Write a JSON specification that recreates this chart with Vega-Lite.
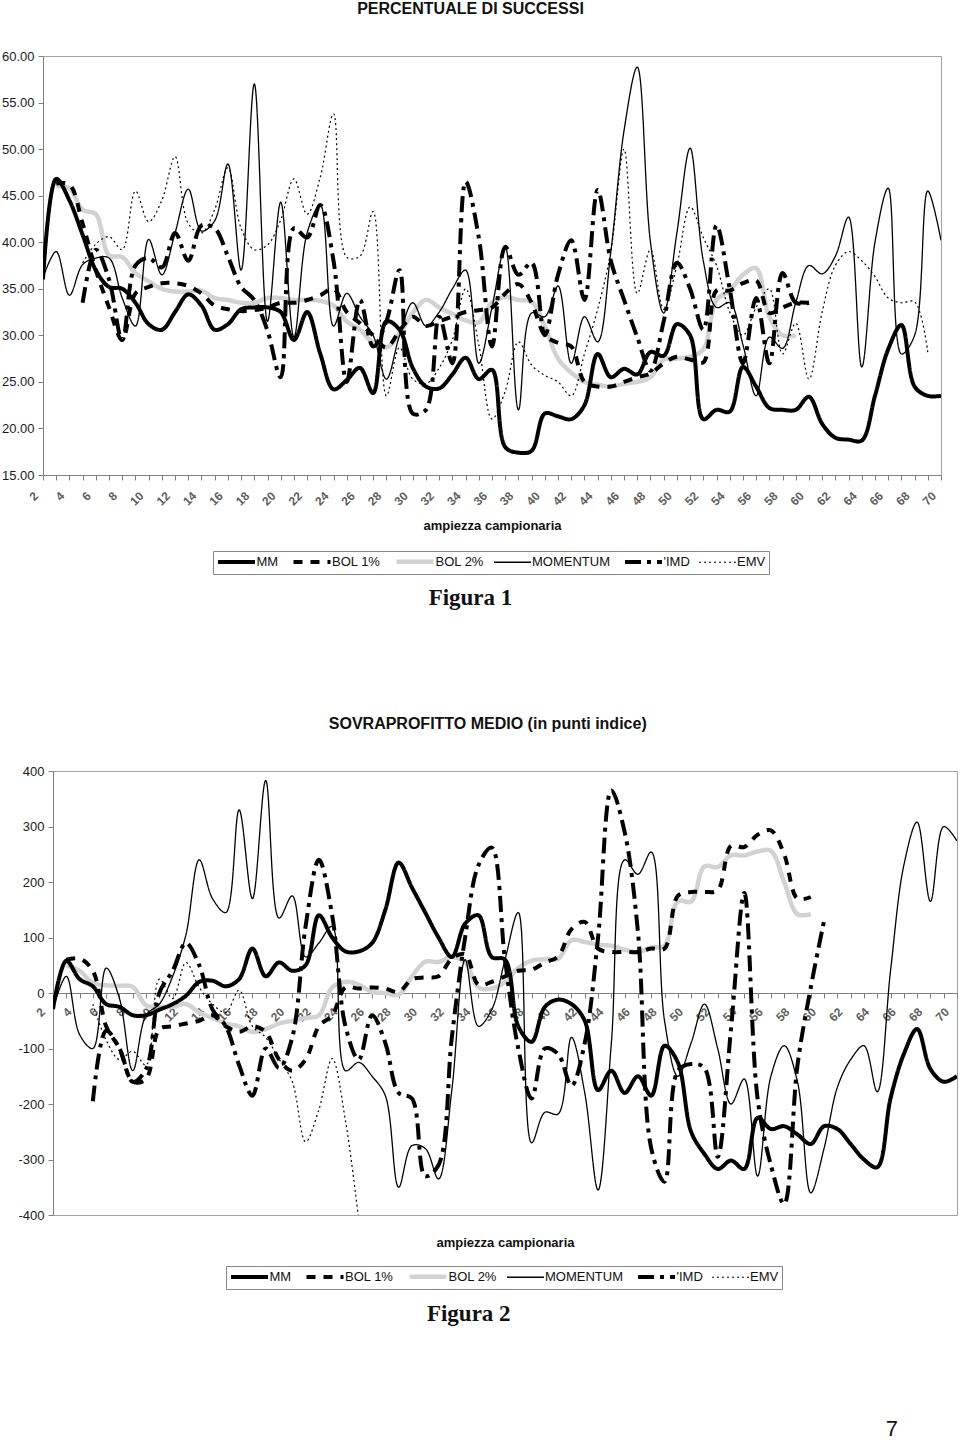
{
"$schema": "https://vega.github.io/schema/vega-lite/v6.json",
"background": "white",
"padding": 0,
"config": {
  "font": "Liberation Sans",
  "view": {"stroke": "#a0a0a0", "strokeWidth": 1},
  "axis": {"grid": false, "domainColor": "#808080", "tickColor": "#808080", "labelFont": "Liberation Sans", "titleFont": "Liberation Sans"},
  "title": {"font": "Liberation Sans", "fontSize": 16, "fontWeight": "bold", "color": "#111"},
  "legend": {"labelFont": "Liberation Sans"}
},
"datasets": {
"f1": [
{"s":"BOL 2%","k":3,"v":46},{"s":"BOL 2%","k":4,"v":45.8},{"s":"BOL 2%","k":5,"v":43.5},{"s":"BOL 2%","k":6,"v":43},{"s":"BOL 2%","k":7,"v":38.6},{"s":"BOL 2%","k":8,"v":38.4},{"s":"BOL 2%","k":9,"v":36.7},{"s":"BOL 2%","k":10,"v":35.8},{"s":"BOL 2%","k":11,"v":35},{"s":"BOL 2%","k":12,"v":34.7},{"s":"BOL 2%","k":13,"v":34.7},{"s":"BOL 2%","k":14,"v":34.8},{"s":"BOL 2%","k":15,"v":34},{"s":"BOL 2%","k":16,"v":33.8},{"s":"BOL 2%","k":17,"v":33.5},{"s":"BOL 2%","k":18,"v":33.5},{"s":"BOL 2%","k":19,"v":34},{"s":"BOL 2%","k":20,"v":34},{"s":"BOL 2%","k":21,"v":33.8},{"s":"BOL 2%","k":22,"v":33.8},{"s":"BOL 2%","k":23,"v":33.7},{"s":"BOL 2%","k":24,"v":33.2},{"s":"BOL 2%","k":25,"v":31.5},{"s":"BOL 2%","k":26,"v":30.6},{"s":"BOL 2%","k":27,"v":29.2},{"s":"BOL 2%","k":28,"v":28.7},{"s":"BOL 2%","k":29,"v":30.2},{"s":"BOL 2%","k":30,"v":32.4},{"s":"BOL 2%","k":31,"v":33.8},{"s":"BOL 2%","k":32,"v":33},{"s":"BOL 2%","k":33,"v":32.3},{"s":"BOL 2%","k":34,"v":31.6},{"s":"BOL 2%","k":35,"v":31.4},{"s":"BOL 2%","k":36,"v":33.5},{"s":"BOL 2%","k":37,"v":34.1},{"s":"BOL 2%","k":38,"v":33.8},{"s":"BOL 2%","k":39,"v":33.6},{"s":"BOL 2%","k":40,"v":31},{"s":"BOL 2%","k":41,"v":27.5},{"s":"BOL 2%","k":42,"v":26},{"s":"BOL 2%","k":43,"v":25},{"s":"BOL 2%","k":44,"v":24.7},{"s":"BOL 2%","k":45,"v":24.5},{"s":"BOL 2%","k":46,"v":24.8},{"s":"BOL 2%","k":47,"v":25},{"s":"BOL 2%","k":48,"v":25.5},{"s":"BOL 2%","k":49,"v":27.4},{"s":"BOL 2%","k":50,"v":27.5},{"s":"BOL 2%","k":51,"v":27.7},{"s":"BOL 2%","k":52,"v":28.5},{"s":"BOL 2%","k":53,"v":33.8},{"s":"BOL 2%","k":54,"v":34.8},{"s":"BOL 2%","k":55,"v":36.5},{"s":"BOL 2%","k":56,"v":37.2},{"s":"BOL 2%","k":57,"v":32},{"s":"BOL 2%","k":58,"v":30},{"s":"BOL 2%","k":59,"v":30},
{"s":"EMV","k":5,"v":37.8},{"s":"EMV","k":6,"v":39.8},{"s":"EMV","k":7,"v":40.6},{"s":"EMV","k":8,"v":39.2},{"s":"EMV","k":9,"v":45.5},{"s":"EMV","k":10,"v":42.2},{"s":"EMV","k":11,"v":44.5},{"s":"EMV","k":12,"v":49.2},{"s":"EMV","k":13,"v":42},{"s":"EMV","k":14,"v":41},{"s":"EMV","k":15,"v":43.5},{"s":"EMV","k":16,"v":48},{"s":"EMV","k":17,"v":41.5},{"s":"EMV","k":18,"v":39.2},{"s":"EMV","k":19,"v":39.7},{"s":"EMV","k":20,"v":42.4},{"s":"EMV","k":21,"v":46.8},{"s":"EMV","k":22,"v":43},{"s":"EMV","k":23,"v":47},{"s":"EMV","k":24,"v":53.8},{"s":"EMV","k":25,"v":38.4},{"s":"EMV","k":26,"v":38.5},{"s":"EMV","k":27,"v":43.3},{"s":"EMV","k":28,"v":23.5},{"s":"EMV","k":29,"v":28.7},{"s":"EMV","k":30,"v":25.3},{"s":"EMV","k":31,"v":24.8},{"s":"EMV","k":32,"v":26.5},{"s":"EMV","k":33,"v":29.5},{"s":"EMV","k":34,"v":35},{"s":"EMV","k":35,"v":29},{"s":"EMV","k":36,"v":21},{"s":"EMV","k":37,"v":24},{"s":"EMV","k":38,"v":29.3},{"s":"EMV","k":39,"v":26.8},{"s":"EMV","k":40,"v":25.7},{"s":"EMV","k":41,"v":25},{"s":"EMV","k":42,"v":23.5},{"s":"EMV","k":43,"v":28},{"s":"EMV","k":44,"v":32.8},{"s":"EMV","k":45,"v":39},{"s":"EMV","k":46,"v":50},{"s":"EMV","k":47,"v":34.5},{"s":"EMV","k":48,"v":39.2},{"s":"EMV","k":49,"v":32.8},{"s":"EMV","k":50,"v":37.5},{"s":"EMV","k":51,"v":43.8},{"s":"EMV","k":52,"v":40.5},{"s":"EMV","k":53,"v":37.5},{"s":"EMV","k":54,"v":32.5},{"s":"EMV","k":55,"v":30},{"s":"EMV","k":56,"v":33},{"s":"EMV","k":57,"v":35},{"s":"EMV","k":58,"v":28},{"s":"EMV","k":59,"v":31.3},{"s":"EMV","k":60,"v":25.3},{"s":"EMV","k":61,"v":32.5},{"s":"EMV","k":62,"v":37.5},{"s":"EMV","k":63,"v":39},{"s":"EMV","k":64,"v":38},{"s":"EMV","k":65,"v":36.3},{"s":"EMV","k":66,"v":34},{"s":"EMV","k":67,"v":33.5},{"s":"EMV","k":68,"v":33.6},{"s":"EMV","k":69,"v":28.2},
{"s":"MOMENTUM","k":2,"v":36.2},{"s":"MOMENTUM","k":3,"v":39},{"s":"MOMENTUM","k":4,"v":34.3},{"s":"MOMENTUM","k":5,"v":37.6},{"s":"MOMENTUM","k":6,"v":38.3},{"s":"MOMENTUM","k":7,"v":38.3},{"s":"MOMENTUM","k":8,"v":34},{"s":"MOMENTUM","k":9,"v":31},{"s":"MOMENTUM","k":10,"v":40.3},{"s":"MOMENTUM","k":11,"v":36.5},{"s":"MOMENTUM","k":12,"v":41},{"s":"MOMENTUM","k":13,"v":45.7},{"s":"MOMENTUM","k":14,"v":41.2},{"s":"MOMENTUM","k":15,"v":42.3},{"s":"MOMENTUM","k":16,"v":48.4},{"s":"MOMENTUM","k":17,"v":37},{"s":"MOMENTUM","k":18,"v":57},{"s":"MOMENTUM","k":19,"v":31.5},{"s":"MOMENTUM","k":20,"v":44.3},{"s":"MOMENTUM","k":21,"v":29.8},{"s":"MOMENTUM","k":22,"v":41},{"s":"MOMENTUM","k":23,"v":44},{"s":"MOMENTUM","k":24,"v":31},{"s":"MOMENTUM","k":25,"v":34.5},{"s":"MOMENTUM","k":26,"v":32},{"s":"MOMENTUM","k":27,"v":30},{"s":"MOMENTUM","k":28,"v":25.3},{"s":"MOMENTUM","k":29,"v":30},{"s":"MOMENTUM","k":30,"v":33.5},{"s":"MOMENTUM","k":31,"v":31},{"s":"MOMENTUM","k":32,"v":32.5},{"s":"MOMENTUM","k":33,"v":35},{"s":"MOMENTUM","k":34,"v":37},{"s":"MOMENTUM","k":35,"v":27},{"s":"MOMENTUM","k":36,"v":33},{"s":"MOMENTUM","k":37,"v":39.5},{"s":"MOMENTUM","k":38,"v":22},{"s":"MOMENTUM","k":39,"v":32.4},{"s":"MOMENTUM","k":40,"v":32},{"s":"MOMENTUM","k":41,"v":35.3},{"s":"MOMENTUM","k":42,"v":27},{"s":"MOMENTUM","k":43,"v":32},{"s":"MOMENTUM","k":44,"v":29.3},{"s":"MOMENTUM","k":45,"v":39},{"s":"MOMENTUM","k":46,"v":52},{"s":"MOMENTUM","k":47,"v":58.8},{"s":"MOMENTUM","k":48,"v":40},{"s":"MOMENTUM","k":49,"v":32.4},{"s":"MOMENTUM","k":50,"v":41},{"s":"MOMENTUM","k":51,"v":50.1},{"s":"MOMENTUM","k":52,"v":38},{"s":"MOMENTUM","k":53,"v":33},{"s":"MOMENTUM","k":54,"v":33.5},{"s":"MOMENTUM","k":55,"v":29},{"s":"MOMENTUM","k":56,"v":23.5},{"s":"MOMENTUM","k":57,"v":29.8},{"s":"MOMENTUM","k":58,"v":28.6},{"s":"MOMENTUM","k":59,"v":33.5},{"s":"MOMENTUM","k":60,"v":37.5},{"s":"MOMENTUM","k":61,"v":36.6},{"s":"MOMENTUM","k":62,"v":38.5},{"s":"MOMENTUM","k":63,"v":42.7},{"s":"MOMENTUM","k":64,"v":26.6},{"s":"MOMENTUM","k":65,"v":40},{"s":"MOMENTUM","k":66,"v":45.8},{"s":"MOMENTUM","k":67,"v":28},{"s":"MOMENTUM","k":68,"v":30},{"s":"MOMENTUM","k":69,"v":45.5},{"s":"MOMENTUM","k":70,"v":40.2},
{"s":"BOL 1%","k":3,"v":46.3},{"s":"BOL 1%","k":4,"v":46.2},{"s":"BOL 1%","k":5,"v":42},{"s":"BOL 1%","k":6,"v":37},{"s":"BOL 1%","k":7,"v":33},{"s":"BOL 1%","k":8,"v":29.5},{"s":"BOL 1%","k":9,"v":34.5},{"s":"BOL 1%","k":10,"v":35.2},{"s":"BOL 1%","k":11,"v":35.6},{"s":"BOL 1%","k":12,"v":35.6},{"s":"BOL 1%","k":13,"v":35.3},{"s":"BOL 1%","k":14,"v":34.5},{"s":"BOL 1%","k":15,"v":33.2},{"s":"BOL 1%","k":16,"v":32.8},{"s":"BOL 1%","k":17,"v":32.6},{"s":"BOL 1%","k":18,"v":32.7},{"s":"BOL 1%","k":19,"v":33},{"s":"BOL 1%","k":20,"v":33.5},{"s":"BOL 1%","k":21,"v":33.5},{"s":"BOL 1%","k":22,"v":33.8},{"s":"BOL 1%","k":23,"v":34.3},{"s":"BOL 1%","k":24,"v":35},{"s":"BOL 1%","k":25,"v":32.5},{"s":"BOL 1%","k":26,"v":31.3},{"s":"BOL 1%","k":27,"v":30},{"s":"BOL 1%","k":28,"v":28.7},{"s":"BOL 1%","k":29,"v":30.5},{"s":"BOL 1%","k":30,"v":32},{"s":"BOL 1%","k":31,"v":31},{"s":"BOL 1%","k":32,"v":31.5},{"s":"BOL 1%","k":33,"v":32},{"s":"BOL 1%","k":34,"v":32.5},{"s":"BOL 1%","k":35,"v":32.7},{"s":"BOL 1%","k":36,"v":33},{"s":"BOL 1%","k":37,"v":34.5},{"s":"BOL 1%","k":38,"v":35.5},{"s":"BOL 1%","k":39,"v":33.5},{"s":"BOL 1%","k":40,"v":30},{"s":"BOL 1%","k":41,"v":29.2},{"s":"BOL 1%","k":42,"v":28.8},{"s":"BOL 1%","k":43,"v":25},{"s":"BOL 1%","k":44,"v":24.5},{"s":"BOL 1%","k":45,"v":24.5},{"s":"BOL 1%","k":46,"v":25},{"s":"BOL 1%","k":47,"v":25.5},{"s":"BOL 1%","k":48,"v":25.9},{"s":"BOL 1%","k":49,"v":27},{"s":"BOL 1%","k":50,"v":27.7},{"s":"BOL 1%","k":51,"v":27.4},{"s":"BOL 1%","k":52,"v":27.1},{"s":"BOL 1%","k":53,"v":34.8},{"s":"BOL 1%","k":54,"v":34.8},{"s":"BOL 1%","k":55,"v":35.6},{"s":"BOL 1%","k":56,"v":35.9},{"s":"BOL 1%","k":57,"v":32.4},{"s":"BOL 1%","k":58,"v":33},{"s":"BOL 1%","k":59,"v":33.5},{"s":"BOL 1%","k":60,"v":33.5},
{"s":"'IMD","k":5,"v":33.5},{"s":"'IMD","k":6,"v":39.2},{"s":"'IMD","k":7,"v":36},{"s":"'IMD","k":8,"v":29.5},{"s":"'IMD","k":9,"v":37.5},{"s":"'IMD","k":10,"v":38.3},{"s":"'IMD","k":11,"v":37.3},{"s":"'IMD","k":12,"v":41},{"s":"'IMD","k":13,"v":38},{"s":"'IMD","k":14,"v":41.8},{"s":"'IMD","k":15,"v":41.5},{"s":"'IMD","k":16,"v":38.5},{"s":"'IMD","k":17,"v":35.2},{"s":"'IMD","k":18,"v":33.8},{"s":"'IMD","k":19,"v":30.5},{"s":"'IMD","k":20,"v":25.5},{"s":"'IMD","k":21,"v":41.5},{"s":"'IMD","k":22,"v":40.5},{"s":"'IMD","k":23,"v":44},{"s":"'IMD","k":24,"v":38},{"s":"'IMD","k":25,"v":25},{"s":"'IMD","k":26,"v":33.8},{"s":"'IMD","k":27,"v":28.8},{"s":"'IMD","k":28,"v":31.5},{"s":"'IMD","k":29,"v":37},{"s":"'IMD","k":30,"v":21.6},{"s":"'IMD","k":31,"v":22},{"s":"'IMD","k":32,"v":32},{"s":"'IMD","k":33,"v":27},{"s":"'IMD","k":34,"v":46.5},{"s":"'IMD","k":35,"v":40.5},{"s":"'IMD","k":36,"v":28.8},{"s":"'IMD","k":37,"v":39.5},{"s":"'IMD","k":38,"v":36.5},{"s":"'IMD","k":39,"v":37.8},{"s":"'IMD","k":40,"v":30},{"s":"'IMD","k":41,"v":36.5},{"s":"'IMD","k":42,"v":40.2},{"s":"'IMD","k":43,"v":33.8},{"s":"'IMD","k":44,"v":45.6},{"s":"'IMD","k":45,"v":38},{"s":"'IMD","k":46,"v":33.8},{"s":"'IMD","k":47,"v":29.8},{"s":"'IMD","k":48,"v":26.2},{"s":"'IMD","k":49,"v":31.5},{"s":"'IMD","k":50,"v":37.8},{"s":"'IMD","k":51,"v":35},{"s":"'IMD","k":52,"v":30.6},{"s":"'IMD","k":53,"v":41.8},{"s":"'IMD","k":54,"v":35},{"s":"'IMD","k":55,"v":27},{"s":"'IMD","k":56,"v":34},{"s":"'IMD","k":57,"v":27},{"s":"'IMD","k":58,"v":36.7},{"s":"'IMD","k":59,"v":33.5},{"s":"'IMD","k":60,"v":33.5},
{"s":"MM","k":2,"v":36},{"s":"MM","k":3,"v":46.8},{"s":"MM","k":4,"v":44.5},{"s":"MM","k":5,"v":40.8},{"s":"MM","k":6,"v":37},{"s":"MM","k":7,"v":35.2},{"s":"MM","k":8,"v":35},{"s":"MM","k":9,"v":33.5},{"s":"MM","k":10,"v":31.2},{"s":"MM","k":11,"v":30.6},{"s":"MM","k":12,"v":32.5},{"s":"MM","k":13,"v":34.4},{"s":"MM","k":14,"v":33.2},{"s":"MM","k":15,"v":30.6},{"s":"MM","k":16,"v":31.2},{"s":"MM","k":17,"v":32.8},{"s":"MM","k":18,"v":33},{"s":"MM","k":19,"v":33},{"s":"MM","k":20,"v":32.5},{"s":"MM","k":21,"v":29.5},{"s":"MM","k":22,"v":32.5},{"s":"MM","k":23,"v":28},{"s":"MM","k":24,"v":24.2},{"s":"MM","k":25,"v":25.2},{"s":"MM","k":26,"v":26.5},{"s":"MM","k":27,"v":23.8},{"s":"MM","k":28,"v":31.5},{"s":"MM","k":29,"v":30.6},{"s":"MM","k":30,"v":26.5},{"s":"MM","k":31,"v":24.5},{"s":"MM","k":32,"v":24.3},{"s":"MM","k":33,"v":25.8},{"s":"MM","k":34,"v":27.6},{"s":"MM","k":35,"v":25.3},{"s":"MM","k":36,"v":26.3},{"s":"MM","k":37,"v":18},{"s":"MM","k":38,"v":17.4},{"s":"MM","k":39,"v":17.6},{"s":"MM","k":40,"v":21.6},{"s":"MM","k":41,"v":21.3},{"s":"MM","k":42,"v":21},{"s":"MM","k":43,"v":22.5},{"s":"MM","k":44,"v":28},{"s":"MM","k":45,"v":25.5},{"s":"MM","k":46,"v":26.4},{"s":"MM","k":47,"v":25.8},{"s":"MM","k":48,"v":28.2},{"s":"MM","k":49,"v":27.8},{"s":"MM","k":50,"v":31.2},{"s":"MM","k":51,"v":30},{"s":"MM","k":52,"v":21},{"s":"MM","k":53,"v":22},{"s":"MM","k":54,"v":21.8},{"s":"MM","k":55,"v":26.6},{"s":"MM","k":56,"v":24.5},{"s":"MM","k":57,"v":22.2},{"s":"MM","k":58,"v":22},{"s":"MM","k":59,"v":22},{"s":"MM","k":60,"v":23.4},{"s":"MM","k":61,"v":20.5},{"s":"MM","k":62,"v":19},{"s":"MM","k":63,"v":18.8},{"s":"MM","k":64,"v":18.7},{"s":"MM","k":65,"v":23.5},{"s":"MM","k":66,"v":28.5},{"s":"MM","k":67,"v":31.1},{"s":"MM","k":68,"v":24.5},{"s":"MM","k":69,"v":23.5},{"s":"MM","k":70,"v":23.5}
],
"f2": [
{"s":"BOL 2%","k":3,"v":50},{"s":"BOL 2%","k":4,"v":40},{"s":"BOL 2%","k":5,"v":18},{"s":"BOL 2%","k":6,"v":14},{"s":"BOL 2%","k":7,"v":13},{"s":"BOL 2%","k":8,"v":11},{"s":"BOL 2%","k":9,"v":-22},{"s":"BOL 2%","k":10,"v":-25},{"s":"BOL 2%","k":11,"v":-25},{"s":"BOL 2%","k":12,"v":-20},{"s":"BOL 2%","k":13,"v":-35},{"s":"BOL 2%","k":14,"v":-45},{"s":"BOL 2%","k":15,"v":-55},{"s":"BOL 2%","k":16,"v":-60},{"s":"BOL 2%","k":17,"v":-70},{"s":"BOL 2%","k":18,"v":-65},{"s":"BOL 2%","k":19,"v":-55},{"s":"BOL 2%","k":20,"v":-50},{"s":"BOL 2%","k":21,"v":-45},{"s":"BOL 2%","k":22,"v":-40},{"s":"BOL 2%","k":23,"v":10},{"s":"BOL 2%","k":24,"v":20},{"s":"BOL 2%","k":25,"v":15},{"s":"BOL 2%","k":26,"v":2},{"s":"BOL 2%","k":27,"v":0},{"s":"BOL 2%","k":28,"v":-3},{"s":"BOL 2%","k":29,"v":30},{"s":"BOL 2%","k":30,"v":56},{"s":"BOL 2%","k":31,"v":56},{"s":"BOL 2%","k":32,"v":65},{"s":"BOL 2%","k":33,"v":55},{"s":"BOL 2%","k":34,"v":10},{"s":"BOL 2%","k":35,"v":8},{"s":"BOL 2%","k":36,"v":20},{"s":"BOL 2%","k":37,"v":45},{"s":"BOL 2%","k":38,"v":58},{"s":"BOL 2%","k":39,"v":61},{"s":"BOL 2%","k":40,"v":62},{"s":"BOL 2%","k":41,"v":95},{"s":"BOL 2%","k":42,"v":92},{"s":"BOL 2%","k":43,"v":87},{"s":"BOL 2%","k":44,"v":85},{"s":"BOL 2%","k":45,"v":78},{"s":"BOL 2%","k":46,"v":74},{"s":"BOL 2%","k":47,"v":82},{"s":"BOL 2%","k":48,"v":85},{"s":"BOL 2%","k":49,"v":165},{"s":"BOL 2%","k":50,"v":165},{"s":"BOL 2%","k":51,"v":228},{"s":"BOL 2%","k":52,"v":227},{"s":"BOL 2%","k":53,"v":248},{"s":"BOL 2%","k":54,"v":248},{"s":"BOL 2%","k":55,"v":255},{"s":"BOL 2%","k":56,"v":256},{"s":"BOL 2%","k":57,"v":200},{"s":"BOL 2%","k":58,"v":142},{"s":"BOL 2%","k":59,"v":142},
{"s":"EMV","k":5,"v":-20},{"s":"EMV","k":6,"v":-85},{"s":"EMV","k":7,"v":-120},{"s":"EMV","k":8,"v":-105},{"s":"EMV","k":9,"v":-130},{"s":"EMV","k":10,"v":25},{"s":"EMV","k":11,"v":-10},{"s":"EMV","k":12,"v":55},{"s":"EMV","k":13,"v":10},{"s":"EMV","k":14,"v":-20},{"s":"EMV","k":15,"v":-35},{"s":"EMV","k":16,"v":5},{"s":"EMV","k":17,"v":-60},{"s":"EMV","k":18,"v":-80},{"s":"EMV","k":19,"v":-119},{"s":"EMV","k":20,"v":-160},{"s":"EMV","k":21,"v":-268},{"s":"EMV","k":22,"v":-210},{"s":"EMV","k":23,"v":-118},{"s":"EMV","k":24,"v":-230},{"s":"EMV","k":25,"v":-410},
{"s":"MOMENTUM","k":2,"v":-29},{"s":"MOMENTUM","k":3,"v":30},{"s":"MOMENTUM","k":4,"v":-75},{"s":"MOMENTUM","k":5,"v":-100},{"s":"MOMENTUM","k":6,"v":45},{"s":"MOMENTUM","k":7,"v":-10},{"s":"MOMENTUM","k":8,"v":-140},{"s":"MOMENTUM","k":9,"v":-40},{"s":"MOMENTUM","k":10,"v":-20},{"s":"MOMENTUM","k":11,"v":30},{"s":"MOMENTUM","k":12,"v":105},{"s":"MOMENTUM","k":13,"v":240},{"s":"MOMENTUM","k":14,"v":170},{"s":"MOMENTUM","k":15,"v":145},{"s":"MOMENTUM","k":16,"v":330},{"s":"MOMENTUM","k":17,"v":170},{"s":"MOMENTUM","k":18,"v":383},{"s":"MOMENTUM","k":19,"v":135},{"s":"MOMENTUM","k":20,"v":175},{"s":"MOMENTUM","k":21,"v":65},{"s":"MOMENTUM","k":22,"v":90},{"s":"MOMENTUM","k":23,"v":120},{"s":"MOMENTUM","k":24,"v":-140},{"s":"MOMENTUM","k":25,"v":-125},{"s":"MOMENTUM","k":26,"v":-150},{"s":"MOMENTUM","k":27,"v":-185},{"s":"MOMENTUM","k":28,"v":-350},{"s":"MOMENTUM","k":29,"v":-275},{"s":"MOMENTUM","k":30,"v":-280},{"s":"MOMENTUM","k":31,"v":-335},{"s":"MOMENTUM","k":32,"v":-175},{"s":"MOMENTUM","k":33,"v":60},{"s":"MOMENTUM","k":34,"v":-60},{"s":"MOMENTUM","k":35,"v":-30},{"s":"MOMENTUM","k":36,"v":60},{"s":"MOMENTUM","k":37,"v":145},{"s":"MOMENTUM","k":38,"v":-270},{"s":"MOMENTUM","k":39,"v":-215},{"s":"MOMENTUM","k":40,"v":-218},{"s":"MOMENTUM","k":41,"v":-80},{"s":"MOMENTUM","k":42,"v":-180},{"s":"MOMENTUM","k":43,"v":-355},{"s":"MOMENTUM","k":44,"v":-90},{"s":"MOMENTUM","k":45,"v":240},{"s":"MOMENTUM","k":46,"v":214},{"s":"MOMENTUM","k":47,"v":254},{"s":"MOMENTUM","k":48,"v":-50},{"s":"MOMENTUM","k":49,"v":-150},{"s":"MOMENTUM","k":50,"v":-90},{"s":"MOMENTUM","k":51,"v":-20},{"s":"MOMENTUM","k":52,"v":-100},{"s":"MOMENTUM","k":53,"v":-200},{"s":"MOMENTUM","k":54,"v":-155},{"s":"MOMENTUM","k":55,"v":-330},{"s":"MOMENTUM","k":56,"v":-150},{"s":"MOMENTUM","k":57,"v":-95},{"s":"MOMENTUM","k":58,"v":-160},{"s":"MOMENTUM","k":59,"v":-360},{"s":"MOMENTUM","k":60,"v":-280},{"s":"MOMENTUM","k":61,"v":-170},{"s":"MOMENTUM","k":62,"v":-120},{"s":"MOMENTUM","k":63,"v":-95},{"s":"MOMENTUM","k":64,"v":-178},{"s":"MOMENTUM","k":65,"v":40},{"s":"MOMENTUM","k":66,"v":230},{"s":"MOMENTUM","k":67,"v":308},{"s":"MOMENTUM","k":68,"v":165},{"s":"MOMENTUM","k":69,"v":300},{"s":"MOMENTUM","k":70,"v":274},
{"s":"BOL 1%","k":3,"v":60},{"s":"BOL 1%","k":4,"v":62},{"s":"BOL 1%","k":5,"v":40},{"s":"BOL 1%","k":6,"v":-60},{"s":"BOL 1%","k":7,"v":-100},{"s":"BOL 1%","k":8,"v":-160},{"s":"BOL 1%","k":9,"v":-155},{"s":"BOL 1%","k":10,"v":-65},{"s":"BOL 1%","k":11,"v":-60},{"s":"BOL 1%","k":12,"v":-55},{"s":"BOL 1%","k":13,"v":-50},{"s":"BOL 1%","k":14,"v":-40},{"s":"BOL 1%","k":15,"v":-60},{"s":"BOL 1%","k":16,"v":-70},{"s":"BOL 1%","k":17,"v":-60},{"s":"BOL 1%","k":18,"v":-70},{"s":"BOL 1%","k":19,"v":-120},{"s":"BOL 1%","k":20,"v":-140},{"s":"BOL 1%","k":21,"v":-120},{"s":"BOL 1%","k":22,"v":-60},{"s":"BOL 1%","k":23,"v":-40},{"s":"BOL 1%","k":24,"v":10},{"s":"BOL 1%","k":25,"v":8},{"s":"BOL 1%","k":26,"v":10},{"s":"BOL 1%","k":27,"v":8},{"s":"BOL 1%","k":28,"v":2},{"s":"BOL 1%","k":29,"v":25},{"s":"BOL 1%","k":30,"v":28},{"s":"BOL 1%","k":31,"v":30},{"s":"BOL 1%","k":32,"v":62},{"s":"BOL 1%","k":33,"v":70},{"s":"BOL 1%","k":34,"v":15},{"s":"BOL 1%","k":35,"v":20},{"s":"BOL 1%","k":36,"v":30},{"s":"BOL 1%","k":37,"v":40},{"s":"BOL 1%","k":38,"v":42},{"s":"BOL 1%","k":39,"v":55},{"s":"BOL 1%","k":40,"v":66},{"s":"BOL 1%","k":41,"v":115},{"s":"BOL 1%","k":42,"v":128},{"s":"BOL 1%","k":43,"v":80},{"s":"BOL 1%","k":44,"v":74},{"s":"BOL 1%","k":45,"v":74},{"s":"BOL 1%","k":46,"v":74},{"s":"BOL 1%","k":47,"v":80},{"s":"BOL 1%","k":48,"v":80},{"s":"BOL 1%","k":49,"v":175},{"s":"BOL 1%","k":50,"v":182},{"s":"BOL 1%","k":51,"v":182},{"s":"BOL 1%","k":52,"v":185},{"s":"BOL 1%","k":53,"v":265},{"s":"BOL 1%","k":54,"v":263},{"s":"BOL 1%","k":55,"v":285},{"s":"BOL 1%","k":56,"v":293},{"s":"BOL 1%","k":57,"v":250},{"s":"BOL 1%","k":58,"v":170},{"s":"BOL 1%","k":59,"v":173},
{"s":"'IMD","k":5,"v":-195},{"s":"'IMD","k":6,"v":-68},{"s":"'IMD","k":7,"v":-100},{"s":"'IMD","k":8,"v":-160},{"s":"'IMD","k":9,"v":-137},{"s":"'IMD","k":10,"v":0},{"s":"'IMD","k":11,"v":40},{"s":"'IMD","k":12,"v":90},{"s":"'IMD","k":13,"v":50},{"s":"'IMD","k":14,"v":-30},{"s":"'IMD","k":15,"v":-60},{"s":"'IMD","k":16,"v":-130},{"s":"'IMD","k":17,"v":-185},{"s":"'IMD","k":18,"v":-100},{"s":"'IMD","k":19,"v":-135},{"s":"'IMD","k":20,"v":-80},{"s":"'IMD","k":21,"v":120},{"s":"'IMD","k":22,"v":240},{"s":"'IMD","k":23,"v":140},{"s":"'IMD","k":24,"v":-60},{"s":"'IMD","k":25,"v":-120},{"s":"'IMD","k":26,"v":-40},{"s":"'IMD","k":27,"v":-90},{"s":"'IMD","k":28,"v":-180},{"s":"'IMD","k":29,"v":-190},{"s":"'IMD","k":30,"v":-330},{"s":"'IMD","k":31,"v":-310},{"s":"'IMD","k":32,"v":-80},{"s":"'IMD","k":33,"v":100},{"s":"'IMD","k":34,"v":230},{"s":"'IMD","k":35,"v":262},{"s":"'IMD","k":36,"v":60},{"s":"'IMD","k":37,"v":-100},{"s":"'IMD","k":38,"v":-190},{"s":"'IMD","k":39,"v":-100},{"s":"'IMD","k":40,"v":-110},{"s":"'IMD","k":41,"v":-167},{"s":"'IMD","k":42,"v":-90},{"s":"'IMD","k":43,"v":100},{"s":"'IMD","k":44,"v":365},{"s":"'IMD","k":45,"v":290},{"s":"'IMD","k":46,"v":110},{"s":"'IMD","k":47,"v":-280},{"s":"'IMD","k":48,"v":-340},{"s":"'IMD","k":49,"v":-140},{"s":"'IMD","k":50,"v":-128},{"s":"'IMD","k":51,"v":-135},{"s":"'IMD","k":52,"v":-295},{"s":"'IMD","k":53,"v":-65},{"s":"'IMD","k":54,"v":180},{"s":"'IMD","k":55,"v":-190},{"s":"'IMD","k":56,"v":-310},{"s":"'IMD","k":57,"v":-380},{"s":"'IMD","k":58,"v":-130},{"s":"'IMD","k":59,"v":10},{"s":"'IMD","k":60,"v":130},
{"s":"MM","k":2,"v":-29},{"s":"MM","k":3,"v":58},{"s":"MM","k":4,"v":25},{"s":"MM","k":5,"v":12},{"s":"MM","k":6,"v":-20},{"s":"MM","k":7,"v":-25},{"s":"MM","k":8,"v":-40},{"s":"MM","k":9,"v":-40},{"s":"MM","k":10,"v":-30},{"s":"MM","k":11,"v":-20},{"s":"MM","k":12,"v":-5},{"s":"MM","k":13,"v":20},{"s":"MM","k":14,"v":22},{"s":"MM","k":15,"v":12},{"s":"MM","k":16,"v":25},{"s":"MM","k":17,"v":80},{"s":"MM","k":18,"v":30},{"s":"MM","k":19,"v":55},{"s":"MM","k":20,"v":40},{"s":"MM","k":21,"v":50},{"s":"MM","k":22,"v":140},{"s":"MM","k":23,"v":100},{"s":"MM","k":24,"v":75},{"s":"MM","k":25,"v":75},{"s":"MM","k":26,"v":90},{"s":"MM","k":27,"v":150},{"s":"MM","k":28,"v":235},{"s":"MM","k":29,"v":190},{"s":"MM","k":30,"v":145},{"s":"MM","k":31,"v":100},{"s":"MM","k":32,"v":65},{"s":"MM","k":33,"v":125},{"s":"MM","k":34,"v":140},{"s":"MM","k":35,"v":65},{"s":"MM","k":36,"v":60},{"s":"MM","k":37,"v":-60},{"s":"MM","k":38,"v":-88},{"s":"MM","k":39,"v":-25},{"s":"MM","k":40,"v":-12},{"s":"MM","k":41,"v":-20},{"s":"MM","k":42,"v":-50},{"s":"MM","k":43,"v":-175},{"s":"MM","k":44,"v":-140},{"s":"MM","k":45,"v":-180},{"s":"MM","k":46,"v":-150},{"s":"MM","k":47,"v":-185},{"s":"MM","k":48,"v":-95},{"s":"MM","k":49,"v":-125},{"s":"MM","k":50,"v":-250},{"s":"MM","k":51,"v":-290},{"s":"MM","k":52,"v":-317},{"s":"MM","k":53,"v":-302},{"s":"MM","k":54,"v":-317},{"s":"MM","k":55,"v":-225},{"s":"MM","k":56,"v":-245},{"s":"MM","k":57,"v":-240},{"s":"MM","k":58,"v":-255},{"s":"MM","k":59,"v":-272},{"s":"MM","k":60,"v":-240},{"s":"MM","k":61,"v":-245},{"s":"MM","k":62,"v":-272},{"s":"MM","k":63,"v":-300},{"s":"MM","k":64,"v":-314},{"s":"MM","k":65,"v":-190},{"s":"MM","k":66,"v":-110},{"s":"MM","k":67,"v":-65},{"s":"MM","k":68,"v":-137},{"s":"MM","k":69,"v":-160},{"s":"MM","k":70,"v":-150}
]
},
"spacing": 105,
"resolve": {"scale": {"color": "independent", "strokeDash": "independent", "strokeWidth": "independent"}},
"title": {"text": "7", "orient": "bottom", "anchor": "end", "font": "Liberation Sans", "fontSize": 22, "fontWeight": "normal", "offset": 93, "dx": -60},
"vconcat": [
{
 "title": {"text": "Figura 1", "orient": "bottom", "font": "Liberation Serif", "fontSize": 23, "fontWeight": "bold", "offset": 12, "anchor": "middle", "frame": "bounds", "dx": -1},
 "vconcat": [{
  "title": {"text": "PERCENTUALE DI SUCCESSI", "anchor": "middle", "frame": "bounds", "offset": 33, "dx": -1},
  "width": 898, "height": 419,
  "data": {"name": "f1"},
  "mark": {"type": "line", "interpolate": "catmull-rom", "clip": true},
  "encoding": {
   "x": {"field": "k", "type": "quantitative", "scale": {"domain": [2, 70], "nice": false, "zero": false},
     "axis": {"values": [2,3,4,5,6,7,8,9,10,11,12,13,14,15,16,17,18,19,20,21,22,23,24,25,26,27,28,29,30,31,32,33,34,35,36,37,38,39,40,41,42,43,44,45,46,47,48,49,50,51,52,53,54,55,56,57,58,59,60,61,62,63,64,65,66,67,68,69,70],
       "labelExpr": "datum.value % 2 == 0 ? datum.label : ''", "labelAngle": -45, "labelFontSize": 12, "labelFontWeight": "bold", "labelColor": "#606060", "labelOverlap": false, "labelFlush": false, "labelPadding": 10, "labelOffset": -11, "tickSize": 5,
       "title": "ampiezza campionaria", "titleFontSize": 13, "titleFontWeight": "bold", "titleColor": "#111", "titleBaseline": "top", "titleY": 44}},
   "y": {"field": "v", "type": "quantitative", "scale": {"domain": [15, 60], "nice": false, "zero": false},
     "axis": {"values": [15,20,25,30,35,40,45,50,55,60], "format": ".2f", "title": null, "labelFontSize": 13, "labelColor": "#1a1a1a", "tickSize": 5, "labelPadding": 4}},
   "color": {"field": "s", "type": "nominal", "scale": {"domain": ["MM","BOL 1%","BOL 2%","MOMENTUM","'IMD","EMV"], "range": ["#000000","#000000","#d2d2d2","#000000","#000000","#000000"]},
     "legend": {"title": null, "orient": "none", "legendX": 170, "legendY": 495, "direction": "horizontal", "symbolType": "M-3.7,0H3.7", "symbolSize": 100, "symbolOffset": 13.5, "labelFontSize": 13, "labelColor": "#111", "labelOffset": 13, "columnPadding": 6.5, "strokeColor": "#888888", "padding": 3}},
   "strokeDash": {"field": "s", "type": "nominal", "scale": {"domain": ["MM","BOL 1%","BOL 2%","MOMENTUM","'IMD","EMV"], "range": [[1,0],[9,8],[1,0],[1,0],[16,6,4,6],[2,3]]}, "legend": {"title": null}},
   "strokeWidth": {"field": "s", "type": "nominal", "scale": {"type": "ordinal", "domain": ["MM","BOL 1%","BOL 2%","MOMENTUM","'IMD","EMV"], "range": [4,4,4.5,1.3,4,1.2]}, "legend": {"title": null}}
  }
 }]
},
{
 "title": {"text": "Figura 2", "orient": "bottom", "font": "Liberation Serif", "fontSize": 23, "fontWeight": "bold", "offset": 13, "anchor": "middle", "frame": "bounds", "dx": -19},
 "bounds": "flush",
 "spacing": 9,
 "hconcat": [
 {"width": 1, "height": 10, "view": {"stroke": null}, "data": {"values": [{"a": 1}]}, "mark": {"type": "point", "opacity": 0}, "encoding": {}},
 {
  "title": {"text": "SOVRAPROFITTO MEDIO (in punti indice)", "anchor": "middle", "frame": "bounds", "offset": 33, "dx": 0},
  "width": 904, "height": 444,
  "data": {"name": "f2"},
  "mark": {"type": "line", "interpolate": "catmull-rom", "clip": true},
  "encoding": {
   "x": {"field": "k", "type": "quantitative", "scale": {"domain": [2, 70], "nice": false, "zero": false},
     "axis": {"values": [2,3,4,5,6,7,8,9,10,11,12,13,14,15,16,17,18,19,20,21,22,23,24,25,26,27,28,29,30,31,32,33,34,35,36,37,38,39,40,41,42,43,44,45,46,47,48,49,50,51,52,53,54,55,56,57,58,59,60,61,62,63,64,65,66,67,68,69,70],
       "labelExpr": "datum.value % 2 == 0 ? datum.label : ''", "labelAngle": -45, "labelFontSize": 12, "labelFontWeight": "bold", "labelColor": "#606060", "labelOverlap": false, "labelFlush": false, "labelPadding": 8, "labelOffset": -14, "tickSize": 5, "offset": -222,
       "title": "ampiezza campionaria", "titleFontSize": 13, "titleFontWeight": "bold", "titleColor": "#111", "titleBaseline": "top", "titleY": 243}},
   "y": {"field": "v", "type": "quantitative", "scale": {"domain": [-400, 400], "nice": false, "zero": false},
     "axis": {"values": [-400,-300,-200,-100,0,100,200,300,400], "labelExpr": "datum.value < 0 ? '-' + (-datum.value) : '' + datum.value", "title": null, "labelFontSize": 13, "labelColor": "#1a1a1a", "tickSize": 5, "labelPadding": 4}},
   "color": {"field": "s", "type": "nominal", "scale": {"domain": ["MM","BOL 1%","BOL 2%","MOMENTUM","'IMD","EMV"], "range": ["#000000","#000000","#d2d2d2","#000000","#000000","#000000"]},
     "legend": {"title": null, "orient": "none", "legendX": 183, "legendY": 495, "direction": "horizontal", "symbolType": "M-3.7,0H3.7", "symbolSize": 100, "symbolOffset": 13.5, "labelFontSize": 13, "labelColor": "#111", "labelOffset": 13, "columnPadding": 6.5, "strokeColor": "#888888", "padding": 3}},
   "strokeDash": {"field": "s", "type": "nominal", "scale": {"domain": ["MM","BOL 1%","BOL 2%","MOMENTUM","'IMD","EMV"], "range": [[1,0],[9,8],[1,0],[1,0],[16,6,4,6],[2,3]]}, "legend": {"title": null}},
   "strokeWidth": {"field": "s", "type": "nominal", "scale": {"type": "ordinal", "domain": ["MM","BOL 1%","BOL 2%","MOMENTUM","'IMD","EMV"], "range": [4,4,4.5,1.3,4,1.2]}, "legend": {"title": null}}
  }
 }]
}
]
}
